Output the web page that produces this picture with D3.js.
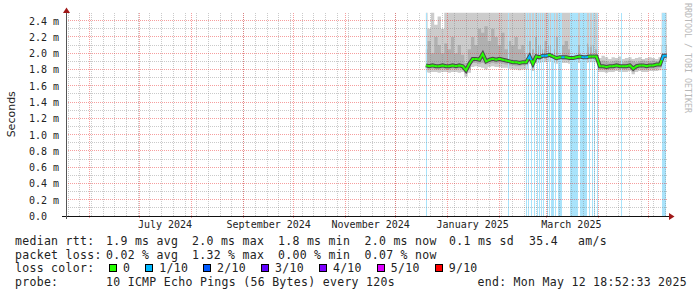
<!DOCTYPE html>
<html>
<head>
<meta charset="utf-8">
<script src="https://cdn.jsdelivr.net/npm/d3@7/dist/d3.min.js"></script>
<style>
  html, body { margin: 0; padding: 0; background: #ffffff; }
  svg text { font-family: "DejaVu Sans Mono", monospace; white-space: pre; }
</style>
</head>
<body>
<div id="chart"></div>
<script>
// one consolidated sample every 2 days, first one on Dec 19 2024
var firstSample = "2024-12-19T00:00:00Z";
var sampleDays = 2;

// median rtt (ms)
var median = [1.85,1.84,1.85,1.84,1.84,1.85,1.84,1.84,1.85,1.84,1.85,1.84,
  1.79,1.87,1.93,1.93,1.92,1.99,1.90,
  1.92,1.93,1.92,1.93,1.92,1.91,1.90,1.89,1.89,1.88,1.89,1.89,
  1.96,1.87,1.96,1.95,1.97,1.97,1.98,1.96,1.94,1.95,1.95,1.95,1.94,1.94,1.95,1.96,1.95,1.95,1.96,1.96,1.96,
  1.84,1.84,1.83,1.84,1.84,1.85,1.84,1.84,1.84,1.85,1.81,1.84,1.85,1.85,1.84,1.85,1.85,1.86,1.86,
  1.97,1.97];
// smoke: fastest ping, lower/upper middle pings, slowest ping (ms)
var smokeLow = [1.77,1.76,1.77,1.77,1.76,1.77,1.77,1.76,1.77,1.77,1.76,1.77,
  1.71,1.76,1.83,1.84,1.83,1.82,1.80,
  1.83,1.84,1.83,1.83,1.82,1.82,1.81,1.80,1.80,1.79,1.80,1.80,
  1.87,1.78,1.88,1.88,1.89,1.89,1.90,1.88,1.87,1.88,1.88,1.88,1.87,1.87,1.88,1.88,1.88,1.88,1.89,1.89,1.89,
  1.77,1.77,1.76,1.77,1.77,1.78,1.77,1.77,1.77,1.78,1.74,1.77,1.78,1.77,1.77,1.78,1.78,1.78,1.79,
  1.90,1.90];
var smokeQ1 = [1.80,1.80,1.81,1.80,1.80,1.81,1.80,1.80,1.81,1.80,1.81,1.80,
  1.75,1.80,1.88,1.88,1.87,1.88,1.86,
  1.87,1.88,1.87,1.88,1.87,1.86,1.85,1.85,1.84,1.84,1.85,1.85,
  1.92,1.83,1.92,1.92,1.93,1.93,1.94,1.92,1.91,1.92,1.92,1.92,1.91,1.91,1.92,1.92,1.92,1.92,1.93,1.93,1.93,
  1.80,1.80,1.79,1.80,1.80,1.81,1.80,1.80,1.80,1.81,1.77,1.80,1.81,1.80,1.80,1.81,1.81,1.81,1.82,
  1.93,1.93];
var smokeQ3 = [2.05,2.15,2.00,2.20,2.10,2.00,2.12,2.05,2.20,2.00,2.10,1.98,
  1.88,2.05,2.20,2.10,2.30,2.25,2.33,
  2.15,2.30,2.20,2.10,2.25,2.05,2.15,2.10,2.20,2.05,2.10,2.00,
  2.15,2.05,2.20,2.10,2.05,2.15,2.10,2.05,2.20,2.08,2.10,2.15,2.05,2.10,2.20,2.10,2.05,2.12,2.08,2.10,2.05,
  1.90,1.91,1.90,1.89,1.90,1.91,1.90,1.89,1.90,1.91,1.90,1.89,1.90,1.91,1.90,1.90,1.91,1.90,1.90,
  2.10,2.10];
var smokeHigh = [2.50,2.30,2.50,2.35,2.45,2.30,2.50,2.50,2.50,2.50,2.50,2.50,
  2.50,2.50,2.50,2.50,2.50,2.50,2.50,
  2.50,2.50,2.50,2.50,2.50,2.50,2.50,2.50,2.50,2.50,2.50,2.50,
  2.50,2.50,2.50,2.50,2.50,2.50,2.50,2.50,2.50,2.50,2.50,2.50,2.50,2.50,2.50,2.50,2.50,2.50,2.50,2.50,2.50,
  1.94,1.97,1.95,1.93,1.95,1.94,1.96,1.93,1.94,1.95,1.93,1.94,1.95,1.93,1.94,1.95,1.94,1.93,1.95,
  2.50,2.50];
// loss level of the median sample (index into lossLabels)
var medianLoss = [0,0,0,0,0,0,0,0,0,0,0,0,
  0,0,0,0,0,0,0,
  0,0,0,0,0,0,0,0,0,0,0,0,
  1,0,0,0,1,1,0,0,0,0,1,0,0,0,0,0,1,1,0,0,0,
  0,0,0,0,0,0,0,0,0,0,0,0,0,0,0,0,0,0,0,
  1,1];

// periods with packet loss (start, length in days)
var lossStart = ["2024-12-19T16:00Z","2025-02-06T03:00Z","2025-02-17T05:00Z","2025-02-18T14:00Z",
  "2025-02-20T05:00Z","2025-02-22T00:00Z","2025-02-23T14:00Z","2025-02-24T19:00Z","2025-02-26T00:00Z",
  "2025-02-27T05:00Z","2025-03-01T14:00Z","2025-03-03T00:00Z","2025-03-04T00:00Z","2025-03-06T19:00Z",
  "2025-03-08T14:00Z","2025-03-15T05:00Z","2025-03-16T05:00Z","2025-03-21T14:00Z","2025-03-26T17:00Z",
  "2025-03-28T10:00Z","2025-03-30T02:00Z","2025-03-31T12:00Z","2025-04-15T02:00Z","2025-05-09T05:00Z"];
var lossDays = [0.75,0.75,0.75,0.75,0.75,0.75,0.75,0.75,0.75,0.75,0.75,0.75,1.6,0.75,
  2.4,0.75,4.4,3.9,0.75,0.75,0.75,0.75,0.75,2.4];

var yTicks = [0,0.2,0.4,0.6,0.8,1.0,1.2,1.4,1.6,1.8,2.0,2.2,2.4];
var monthTicks = ["2024-07-01","2024-09-01","2024-11-01","2025-01-01","2025-03-01"];

var lossLabels = ["0","1/10","2/10","3/10","4/10","5/10","9/10"];
var lossColors = ["#26ff00","#00b8ff","#0059ff","#5e00ff","#7e00ff","#dd00ff","#ff0000"];

var rttLegend = ["median rtt:","1.9 ms avg","2.0 ms max","1.8 ms min","2.0 ms now","0.1 ms sd","35.4","am/s"];
var lossLegend = ["packet loss:","0.02 % avg","1.32 % max","0.00 % min","0.07 % now"];
var probeLegend = ["probe:","10 ICMP Echo Pings (56 Bytes) every 120s"];
var endLabel = "end: Mon May 12 18:52:33 2025";

var rangeStart = new Date("2024-05-17T18:52:33Z");
var rangeEnd = new Date("2025-05-12T18:52:33Z");

// ---- layout ----
var W = 697, H = 297;
var plotLeft = 66, plotRight = 668, plotTop = 12.5, plotBottom = 216;
var legendCols = [15, 106, 192, 278, 364.5, 449, 529, 578];
var lossShade = "#a9e3fb";

var svg = d3.select("#chart").append("svg")
  .attr("width", W)
  .attr("height", H)
  .style("background", "#ffffff");

var x = d3.scaleUtc().domain([rangeStart, rangeEnd]).range([plotLeft, plotRight]);
var y = d3.scaleLinear().domain([0, 2.5]).range([plotBottom, plotTop]);

// crisp 1px lines
function px(v){ return Math.round(v - 0.5) + 0.5; }

var rows = median.map(function(d, i){
  return {
    t: d3.utcDay.offset(new Date(firstSample), i * sampleDays),
    med: d, lo: smokeLow[i], q1: smokeQ1[i], q3: smokeQ3[i], hi: smokeHigh[i], loss: medianLoss[i]
  };
});

svg.append("clipPath").attr("id", "plotclip")
  .append("rect")
  .attr("x", plotLeft).attr("y", plotTop)
  .attr("width", plotRight - plotLeft).attr("height", plotBottom - plotTop);

var plot = svg.append("g").attr("clip-path", "url(#plotclip)");

//smoke
function band(a, b){
  return d3.area().curve(d3.curveStep)
    .x(function(d){ return x(d.t); })
    .y0(function(d){ return y(d[a]); })
    .y1(function(d){ return y(d[b]); });
}
plot.append("path").datum(rows).attr("d", band("lo", "hi")).attr("fill", "#cccccc");
plot.append("path").datum(rows).attr("d", band("q1", "q3")).attr("fill", "#b0b0b0");

//loss stripes over full height
plot.selectAll(".loss")
  .data(lossStart)
  .enter()
  .append("rect")
  .attr("class", "loss")
  .attr("x", function(d){ return Math.floor(x(new Date(d))); })
  .attr("width", function(d, i){
    var t0 = new Date(d);
    var t1 = new Date(+t0 + lossDays[i] * 864e5);
    return Math.max(1, Math.round(x(t1) - x(t0)));
  })
  .attr("y", plotTop)
  .attr("height", plotBottom - plotTop)
  .attr("fill", lossShade)
  .attr("shape-rendering", "crispEdges");

//grid, drawn over the smoke like rrdtool does
var grid = svg.append("g").attr("shape-rendering", "crispEdges").attr("stroke-width", 1).attr("stroke-dasharray", "1,1");
var yMinor = d3.range(1, 24, 2).map(function(v){ return v / 10; });
grid.selectAll(".hminor").data(yMinor).enter().append("line")
  .attr("x1", plotLeft).attr("x2", plotRight)
  .attr("y1", function(d){ return px(y(d)); }).attr("y2", function(d){ return px(y(d)); })
  .attr("stroke", "rgba(128,128,128,0.42)");
grid.selectAll(".vminor").data(d3.utcSunday.range(rangeStart, rangeEnd)).enter().append("line")
  .attr("x1", function(d){ return px(x(d)); }).attr("x2", function(d){ return px(x(d)); })
  .attr("y1", plotTop).attr("y2", plotBottom)
  .attr("stroke", "rgba(128,128,128,0.42)");
grid.selectAll(".hmajor").data(yTicks.slice(1)).enter().append("line")
  .attr("x1", plotLeft).attr("x2", plotRight)
  .attr("y1", function(d){ return px(y(d)); }).attr("y2", function(d){ return px(y(d)); })
  .attr("stroke", "rgba(235,40,40,0.45)");
grid.selectAll(".vmajor").data(d3.utcMonth.range(rangeStart, rangeEnd)).enter().append("line")
  .attr("x1", function(d){ return px(x(d)); }).attr("x2", function(d){ return px(x(d)); })
  .attr("y1", plotTop).attr("y2", plotBottom + 3)
  .attr("stroke", "rgba(235,40,40,0.45)");

//median line: dark core of the smoke, then loss coloured line
var medLine = d3.line().x(function(d){ return x(d.t); }).y(function(d){ return y(d.med); });
var med = svg.append("g").attr("clip-path", "url(#plotclip)");
med.append("path").datum(rows).attr("d", medLine)
  .attr("fill", "none").attr("stroke", "#4a4a4a").attr("stroke-width", 4);
rows.forEach(function(d, i){
  var pts = [];
  var prev = rows[i - 1], next = rows[i + 1];
  if (prev) pts.push([(x(prev.t) + x(d.t)) / 2, (y(prev.med) + y(d.med)) / 2]);
  pts.push([x(d.t), y(d.med)]);
  if (next) pts.push([(x(next.t) + x(d.t)) / 2, (y(next.med) + y(d.med)) / 2]);
  med.append("path")
    .attr("d", d3.line()(pts))
    .attr("fill", "none")
    .attr("stroke", lossColors[d.loss])
    .attr("stroke-width", 2);
});

//axes
svg.append("line")
  .attr("x1", plotLeft - 4).attr("x2", plotRight + 1)
  .attr("y1", px(plotBottom)).attr("y2", px(plotBottom))
  .attr("stroke", "#111").attr("shape-rendering", "crispEdges");
svg.append("line")
  .attr("x1", px(plotLeft)).attr("x2", px(plotLeft))
  .attr("y1", plotBottom + 3).attr("y2", 10)
  .attr("stroke", "#555").attr("shape-rendering", "crispEdges");
svg.append("path")
  .attr("d", "M" + (plotRight + 1) + "," + (plotBottom - 3) + "L" + (plotRight + 6.5) + "," + (plotBottom + 0.5) + "L" + (plotRight + 1) + "," + (plotBottom + 4) + "Z")
  .attr("fill", "#a01818");
svg.append("path")
  .attr("d", "M" + (plotLeft - 3) + "," + (plotTop + 0.5) + "L" + (plotLeft + 0.5) + "," + (plotTop - 5) + "L" + (plotLeft + 4) + "," + (plotTop + 0.5) + "Z")
  .attr("fill", "#a01818");

//y tick labels
svg.selectAll(".ylab")
  .data(yTicks)
  .enter()
  .append("text")
  .attr("class", "ylab")
  .attr("x", 29)
  .attr("y", function(d){ return y(d) + 4; })
  .attr("font-size", "10px")
  .attr("fill", "#222")
  .text(function(d){ return d === 0 ? "0.0" : d3.format(".1f")(d) + " m"; });

//month labels, centred on the middle of the month
var fmtMonth = d3.utcFormat("%B %Y");
svg.selectAll(".xlab")
  .data(monthTicks)
  .enter()
  .append("text")
  .attr("class", "xlab")
  .attr("x", function(d){ return x(d3.utcDay.offset(new Date(d + "T00:00:00Z"), 15)); })
  .attr("y", 228)
  .attr("text-anchor", "middle")
  .attr("font-size", "10px")
  .attr("fill", "#222")
  .text(function(d){ return fmtMonth(new Date(d + "T00:00:00Z")); });

//axis title and watermark
svg.append("text")
  .attr("transform", "translate(15," + ((plotTop + plotBottom) / 2) + ") rotate(-90)")
  .attr("text-anchor", "middle")
  .style("font-family", "'DejaVu Sans', sans-serif")
  .attr("font-size", "11px")
  .attr("fill", "#222")
  .text("Seconds");
svg.append("text")
  .attr("transform", "translate(685,3) rotate(90)")
  .attr("font-size", "8.3px")
  .attr("fill", "#b8b8b8")
  .text("RRDTOOL / TOBI OETIKER");

//legend
var legendFont = "11.5px";
var legendSpacing = "0.3px";
function legendRow(items, yy){
  svg.selectAll(null)
    .data(items)
    .enter()
    .append("text")
    .attr("x", function(d, i){ return legendCols[i]; })
    .attr("y", yy)
    .attr("font-size", legendFont)
    .attr("letter-spacing", legendSpacing)
    .attr("fill", "#222")
    .text(function(d){ return d; });
}
legendRow(rttLegend, 245);
legendRow(lossLegend, 258.7);
legendRow(probeLegend, 286);
svg.append("text")
  .attr("x", 477.5).attr("y", 286)
  .attr("font-size", legendFont).attr("letter-spacing", legendSpacing).attr("fill", "#222")
  .text(endLabel);

svg.append("text")
  .attr("x", legendCols[0]).attr("y", 272.4)
  .attr("font-size", legendFont).attr("letter-spacing", legendSpacing).attr("fill", "#222")
  .text("loss color:");
var charW = 7.224;
var bx = 109;
lossLabels.forEach(function(lbl, i){
  svg.append("rect")
    .attr("x", bx + 0.5).attr("y", 264.5)
    .attr("width", 7).attr("height", 7)
    .attr("fill", lossColors[i])
    .attr("stroke", "#000").attr("stroke-width", 1)
    .attr("shape-rendering", "crispEdges");
  svg.append("text")
    .attr("x", bx + 14).attr("y", 272.4)
    .attr("font-size", legendFont).attr("letter-spacing", legendSpacing).attr("fill", "#222")
    .text(lbl);
  bx = bx + 14 + lbl.length * charW + 15;
});
</script>
</body>
</html>
